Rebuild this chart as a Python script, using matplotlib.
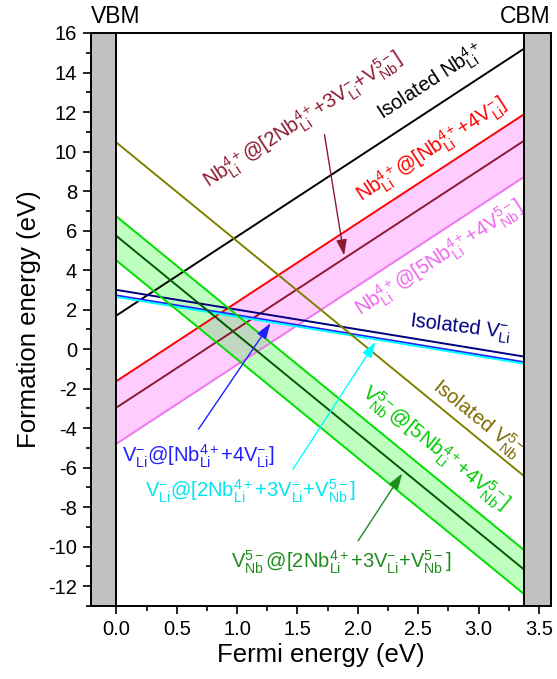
import matplotlib
matplotlib.use("Agg")
import matplotlib.pyplot as plt
import numpy as np

plt.rcParams['font.family'] = ['Liberation Sans', 'DejaVu Sans']
plt.rcParams['mathtext.fontset'] = 'custom'
plt.rcParams['mathtext.rm'] = 'Liberation Sans'
plt.rcParams['mathtext.it'] = 'Liberation Sans:italic'
plt.rcParams['axes.unicode_minus'] = False

# band edges (eV)
vbm = 0.0
cbm = 3.38

# formation energy at the VBM (eV) and charge state of each defect line
defects = ["Nb_Li", "Nb_Li@[Nb+4V]", "Nb_Li@[2Nb+3V+V_Nb]", "Nb_Li@[5Nb+4V_Nb]",
           "V_Li", "V_Li@[Nb+4V]", "V_Li@[2Nb+3V+V_Nb]",
           "V_Nb", "V_Nb@[5Nb+4V_Nb] upper", "V_Nb@[2Nb+3V+V_Nb]", "V_Nb@[5Nb+4V_Nb] lower"]
e_vbm = [1.70, -1.62, -2.96, -4.79,
         3.00, 2.72, 2.64,
         10.46, 6.72, 5.73, 4.49]
charge = [4, 4, 4, 4,
          -1, -1, -1,
          -5, -5, -5, -5]
colors = ['black', '#ff0000', '#8c1a32', '#ee77ee',
          '#000080', '#2020ff', '#00ffff',
          '#808000', '#00dd00', '#005a00', '#00dd00']


def energy(i, ef):
    return e_vbm[i] + charge[i] * ef


fig = plt.figure(figsize=(5.57, 6.79), dpi=100)
ax = fig.add_axes([0.1634, 0.1075, 0.8258, 0.8439])

ef = np.array([vbm, cbm])

# shaded ranges (cluster configurations)
ax.fill_between(ef, energy(1, ef), energy(3, ef), color='#ff00ff', alpha=0.2, lw=0, zorder=1)
ax.fill_between(ef, energy(8, ef), energy(10, ef), color='#00ff00', alpha=0.25, lw=0, zorder=2)

for i in range(len(defects)):
    ax.plot(ef, energy(i, ef), color=colors[i], lw=1.4, zorder=3)

# gray VBM / CBM regions
ax.axvspan(-0.21, vbm, facecolor='#c0c0c0', edgecolor='black', lw=1.4, zorder=4)
ax.axvspan(cbm, 3.6, facecolor='#c0c0c0', edgecolor='black', lw=1.4, zorder=4)

ax.set_xlim(-0.21, 3.6)
ax.set_ylim(-13, 16)
ax.set_xticks(np.arange(0, 3.51, 0.5))
ax.set_xticks(np.arange(0, 3.6, 0.25), minor=True)
ax.set_yticks(np.arange(-12, 16.1, 2))
ax.set_yticks(np.arange(-13, 16.1, 1), minor=True)
ax.set_xticklabels([f"{v:.1f}" for v in np.arange(0, 3.51, 0.5)])
ax.tick_params(which='both', direction='out', width=1.2, labelsize=14.5, top=False, right=False, pad=4)
ax.tick_params(which='major', length=6)
ax.tick_params(which='minor', length=3.5)
for s in ax.spines.values():
    s.set_linewidth(1.4)
    s.set_zorder(5)

ax.set_xlabel("Fermi energy (eV)", fontsize=18.5, labelpad=3)
ax.set_ylabel("Formation energy (eV)", fontsize=18.5, labelpad=5)

ax.text(-0.21, 16.25, "VBM", fontsize=16.5, ha='left', va='bottom')
ax.text(3.6, 16.25, "CBM", fontsize=16.5, ha='right', va='bottom')

# labels on the lines
fs = 14.5
ax.text(2.6, 13.5, r"Isolated Nb$_{\rm Li}^{4+}$", fontsize=fs, color='black',
        rotation=33, ha='center', va='center', rotation_mode='anchor')
ax.text(1.55, 11.6, r"Nb$_{\rm Li}^{4+}$@[2Nb$_{\rm Li}^{4+}$+3V$_{\rm Li}^{-}$+V$_{\rm Nb}^{5-}$]",
        fontsize=fs, color='#8c1a32', rotation=33, ha='center', va='center', rotation_mode='anchor')
ax.text(2.61, 10.1, r"Nb$_{\rm Li}^{4+}$@[Nb$_{\rm Li}^{4+}$+4V$_{\rm Li}^{-}$]",
        fontsize=fs, color='#ff0000', rotation=33, ha='center', va='center', rotation_mode='anchor')
ax.text(2.68, 4.6, r"Nb$_{\rm Li}^{4+}$@[5Nb$_{\rm Li}^{4+}$+4V$_{\rm Nb}^{5-}$]",
        fontsize=fs, color='#ee66ee', rotation=33, ha='center', va='center', rotation_mode='anchor')
ax.text(2.85, 1.08, r"Isolated V$_{\rm Li}^{-}$", fontsize=fs, color='#000080',
        rotation=-7, ha='center', va='center', rotation_mode='anchor')
ax.text(2.99, -3.55, r"Isolated V$_{\rm Nb}^{5-}$", fontsize=fs, color='#7f6a00',
        rotation=-39, ha='center', va='center', rotation_mode='anchor')
ax.text(2.64, -5.0, r"V$_{\rm Nb}^{5-}$@[5Nb$_{\rm Li}^{4+}$+4V$_{\rm Nb}^{5-}$]",
        fontsize=fs, color='#00cc00', rotation=-39, ha='center', va='center', rotation_mode='anchor')
ax.text(0.68, -5.4, r"V$_{\rm Li}^{-}$@[Nb$_{\rm Li}^{4+}$+4V$_{\rm Li}^{-}$]",
        fontsize=fs, color='#2020ff', ha='center', va='center')
ax.text(1.11, -7.2, r"V$_{\rm Li}^{-}$@[2Nb$_{\rm Li}^{4+}$+3V$_{\rm Li}^{-}$+V$_{\rm Nb}^{5-}$]",
        fontsize=fs, color='#00e5ee', ha='center', va='center')
ax.text(1.86, -10.8, r"V$_{\rm Nb}^{5-}$@[2Nb$_{\rm Li}^{4+}$+3V$_{\rm Li}^{-}$+V$_{\rm Nb}^{5-}$]",
        fontsize=fs, color='#1e8c1e', ha='center', va='center')

# arrows from labels to their lines: (line index, tail x, tail y, tip x)
arrows = [(2, 1.72, 11.0, 1.89), (5, 0.667, -4.17, 1.29),
          (6, 1.45, -6.2, 2.16), (9, 1.99, -9.82, 2.38)]
arrow_colors = ['#8c1a32', '#2020ff', '#00ffff', '#1e8c1e']
for (i, x0, y0, x1), c in zip(arrows, arrow_colors):
    ax.annotate("", xy=(x1, energy(i, x1)), xytext=(x0, y0),
                arrowprops=dict(arrowstyle='-|>,head_length=0.6,head_width=0.2', color=c,
                                lw=1.0, mutation_scale=16),
                zorder=6)

plt.savefig("out.png", dpi=100)
